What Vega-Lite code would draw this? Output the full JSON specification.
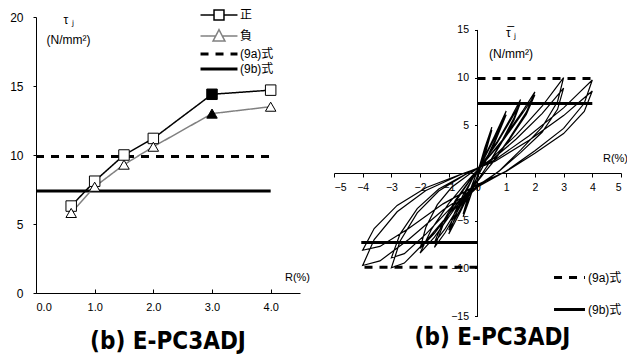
{
  "$schema": "https://vega.github.io/schema/vega-lite/v6.json",
  "padding": {"left": 9, "top": 9, "right": 0, "bottom": 0},
  "spacing": 34,
  "bounds": "flush",
  "background": "white",
  "config": {
    "view": {"stroke": null},
    "axis": {"labelFont": "Liberation Sans", "labelColor": "black", "domainColor": "black", "tickColor": "black", "grid": false, "titleFont": "Liberation Sans", "titleFontWeight": "normal", "titleColor": "black", "labelOverlap": false},
    "legend": {"labelFont": "Liberation Sans, Noto Sans CJK JP", "labelColor": "black", "padding": 0},
    "title": {"font": "DejaVu Sans Condensed", "fontWeight": "bold", "fontSize": 24, "color": "black", "orient": "bottom", "anchor": "middle", "frame": "group"}
  },
  "resolve": {"scale": {"color": "independent", "strokeDash": "independent", "shape": "independent"}, "legend": {"color": "independent", "strokeDash": "independent"}},
  "hconcat": [
    {
      "width": 264,
      "height": 276,
      "title": {"text": "(b) E-PC3ADJ", "offset": 18},
      "layer": [
        {
          "data": {"values": [
            {"series": "(9a)式", "x1": 0, "x2": 4, "y": 9.9},
            {"series": "(9b)式", "x1": 0, "x2": 4, "y": 7.4}
          ]},
          "mark": {"type": "rule", "strokeWidth": 3},
          "encoding": {
            "x": {"field": "x1", "type": "quantitative", "scale": {"domain": [0, 4.5], "nice": false},
              "axis": {"values": [0, 1, 2, 3, 4], "format": ".1f", "tickSize": -4, "labelPadding": 12, "labelFontSize": 11, "labelOverlap": false, "title": "R(%)", "titleX": 261, "titleY": -16, "titleAlign": "center", "titleBaseline": "middle", "titleFontSize": 11}},
            "x2": {"field": "x2"},
            "y": {"field": "y", "type": "quantitative", "scale": {"domain": [0, 20], "nice": false},
              "axis": {"values": [0, 5, 10, 15, 20], "tickSize": 3, "labelPadding": 10, "labelFontSize": 12, "title": ["τ ⱼ", "(N/mm²)"], "titleAngle": 0, "titleX": 32, "titleY": -3, "titleAlign": "center", "titleBaseline": "top", "titleLineHeight": 20, "titleFontSize": 12}},
            "color": {"field": "series", "type": "nominal", "scale": {"domain": ["正", "負", "(9a)式", "(9b)式"], "range": ["black", "#808080", "black", "black"]},
              "legend": {"orient": "none", "legendX": 177, "legendY": -8, "title": null, "symbolSize": 144, "rowPadding": 3, "labelOffset": 15, "labelFontSize": 12,
                "encode": {"symbols": {"update": {
                  "shape": {"signal": "datum.value === '正' ? 'M-3.08,0H-0.83M0.83,0H3.08M-0.83,-0.83H0.83V0.83H-0.83Z' : datum.value === '負' ? 'M-3.08,0H-0.55M0.55,0H3.08M0,-1.05L1,0.85H-1Z' : 'M-3.08,0H3.08'"},
                  "strokeWidth": {"signal": "datum.value === '正' || datum.value === '負' ? 1.5 : 3"},
                  "fill": {"value": "white"},
                  "fillOpacity": {"value": 1}
                }}}}},
            "strokeDash": {"field": "series", "type": "nominal", "scale": {"domain": ["正", "負", "(9a)式", "(9b)式"], "range": [[1, 0], [1, 0], [8, 7], [1, 0]]},
              "legend": {"orient": "none", "legendX": 177, "legendY": -8, "title": null, "symbolSize": 144, "rowPadding": 3, "labelOffset": 15, "labelFontSize": 12,
                "encode": {"symbols": {"update": {
                  "shape": {"signal": "datum.value === '正' ? 'M-3.08,0H-0.83M0.83,0H3.08M-0.83,-0.83H0.83V0.83H-0.83Z' : datum.value === '負' ? 'M-3.08,0H-0.55M0.55,0H3.08M0,-1.05L1,0.85H-1Z' : 'M-3.08,0H3.08'"},
                  "strokeWidth": {"signal": "datum.value === '正' || datum.value === '負' ? 1.5 : 3"},
                  "fill": {"value": "white"},
                  "fillOpacity": {"value": 1}
                }}}}}
          }
        },
        {
          "data": {"values": [
            {"series": "正", "R": 0.6, "tau": 6.3, "solid": false},
            {"series": "正", "R": 1.0, "tau": 8.1, "solid": false},
            {"series": "正", "R": 1.5, "tau": 10.0, "solid": false},
            {"series": "正", "R": 2.0, "tau": 11.2, "solid": false},
            {"series": "正", "R": 3.0, "tau": 14.4, "solid": true},
            {"series": "正", "R": 4.0, "tau": 14.7, "solid": false},
            {"series": "負", "R": 0.6, "tau": 5.8, "solid": false},
            {"series": "負", "R": 1.0, "tau": 7.7, "solid": false},
            {"series": "負", "R": 1.5, "tau": 9.3, "solid": false},
            {"series": "負", "R": 2.0, "tau": 10.6, "solid": false},
            {"series": "負", "R": 3.0, "tau": 13.0, "solid": true},
            {"series": "負", "R": 4.0, "tau": 13.5, "solid": false}
          ]},
          "layer": [
            {
              "mark": {"type": "line", "strokeWidth": 1.5},
              "encoding": {
                "x": {"field": "R", "type": "quantitative"},
                "y": {"field": "tau", "type": "quantitative"},
                "color": {"field": "series", "type": "nominal"},
                "strokeDash": {"field": "series", "type": "nominal"}
              }
            },
            {
              "mark": {"type": "point", "filled": false, "stroke": "black", "strokeWidth": 1, "size": 110, "opacity": 1},
              "encoding": {
                "x": {"field": "R", "type": "quantitative"},
                "y": {"field": "tau", "type": "quantitative"},
                "shape": {"field": "series", "type": "nominal", "scale": {"domain": ["正", "負"], "range": ["square", "triangle-up"]}, "legend": null},
                "fill": {"condition": {"test": "datum.solid", "value": "black"}, "value": "white"},
                "fillOpacity": {"value": 1}
              }
            }
          ]
        }
      ]
    },
    {
      "width": 287,
      "height": 299,
      "title": {"text": "(b) E-PC3ADJ", "dx": 15, "offset": 4},
      "layer": [
        {
          "data": {"values": [
            {"i":0,"R":0,"t":0},{"i":1,"R":0.25,"t":2.6},{"i":2,"R":0.5,"t":4.8},{"i":3,"R":0.3,"t":2.5},{"i":4,"R":0.1,"t":0.58},{"i":5,"R":-0.1,"t":-1.15},{"i":6,"R":-0.3,"t":-2.94},{"i":7,"R":-0.5,"t":-4.6},{"i":8,"R":-0.3,"t":-2.3},{"i":9,"R":-0.1,"t":-0.55},
            {"i":10,"R":0.1,"t":0.99},{"i":11,"R":0.3,"t":2.7},{"i":12,"R":0.5,"t":4.5},{"i":13,"R":0.3,"t":2.34},{"i":14,"R":0.1,"t":0.54},{"i":15,"R":-0.1,"t":-1.08},{"i":16,"R":-0.3,"t":-2.75},{"i":17,"R":-0.5,"t":-4.3},{"i":18,"R":-0.3,"t":-2.15},{"i":19,"R":-0.1,"t":-0.52},
            {"i":20,"R":0.2,"t":1.43},{"i":21,"R":0.6,"t":3.9},{"i":22,"R":1.0,"t":6.5},{"i":23,"R":0.6,"t":3.38},{"i":24,"R":0.2,"t":0.78},{"i":25,"R":-0.2,"t":-1.6},{"i":26,"R":-0.6,"t":-4.1},{"i":27,"R":-1,"t":-6.4},{"i":28,"R":-0.6,"t":-3.2},{"i":29,"R":-0.2,"t":-0.77},
            {"i":30,"R":0.2,"t":1.34},{"i":31,"R":0.6,"t":3.66},{"i":32,"R":1,"t":6.1},{"i":33,"R":0.6,"t":3.17},{"i":34,"R":0.2,"t":0.73},{"i":35,"R":-0.2,"t":-1.5},{"i":36,"R":-0.6,"t":-3.84},{"i":37,"R":-1,"t":-6.0},{"i":38,"R":-0.8,"t":-4.2},{"i":39,"R":-0.5,"t":-2.28},
            {"i":40,"R":-0.2,"t":-0.72},{"i":41,"R":0.15,"t":0.92},{"i":42,"R":0.675,"t":3.23},{"i":43,"R":1.2,"t":6.0},{"i":44,"R":1.5,"t":7.7},{"i":45,"R":1.275,"t":5.78},{"i":46,"R":0.825,"t":3.23},{"i":47,"R":0.375,"t":0.92},{"i":48,"R":-0.075,"t":-1.17},{"i":49,"R":-0.6,"t":-3.51},
            {"i":50,"R":-1.125,"t":-6.24},{"i":51,"R":-1.5,"t":-7.8},{"i":52,"R":-1.2,"t":-5.46},{"i":53,"R":-0.75,"t":-2.96},{"i":54,"R":-0.3,"t":-0.94},{"i":55,"R":0.15,"t":0.89},{"i":56,"R":0.675,"t":3.11},{"i":57,"R":1.2,"t":5.77},{"i":58,"R":1.5,"t":7.4},{"i":59,"R":1.275,"t":5.55},
            {"i":60,"R":0.825,"t":3.11},{"i":61,"R":0.375,"t":0.89},{"i":62,"R":-0.075,"t":-1.1},{"i":63,"R":-0.6,"t":-3.29},{"i":64,"R":-1.125,"t":-5.84},{"i":65,"R":-1.5,"t":-7.3},{"i":66,"R":-1.2,"t":-5.11},{"i":67,"R":-0.75,"t":-2.77},{"i":68,"R":-0.3,"t":-0.88},{"i":69,"R":0.2,"t":1.02},
            {"i":70,"R":0.9,"t":3.57},{"i":71,"R":1.6,"t":6.63},{"i":72,"R":2,"t":8.5},{"i":73,"R":1.7,"t":6.38},{"i":74,"R":1.1,"t":3.57},{"i":75,"R":0.5,"t":1.02},{"i":76,"R":-0.1,"t":-1.26},{"i":77,"R":-0.8,"t":-3.78},{"i":78,"R":-1.5,"t":-6.72},{"i":79,"R":-2,"t":-8.4},
            {"i":80,"R":-1.6,"t":-5.88},{"i":81,"R":-1.0,"t":-3.19},{"i":82,"R":-0.4,"t":-1.01},{"i":83,"R":0.2,"t":0.98},{"i":84,"R":0.9,"t":3.44},{"i":85,"R":1.6,"t":6.4},{"i":86,"R":2,"t":8.2},{"i":87,"R":1.7,"t":6.15},{"i":88,"R":1.1,"t":3.44},{"i":89,"R":0.5,"t":0.98},
            {"i":90,"R":-0.1,"t":-1.19},{"i":91,"R":-0.8,"t":-3.56},{"i":92,"R":-1.5,"t":-6.32},{"i":93,"R":-2,"t":-7.9},{"i":94,"R":-1.8,"t":-5.69},{"i":95,"R":-1.4,"t":-3.32},{"i":96,"R":-0.9,"t":-1.5},{"i":97,"R":-0.3,"t":-0.16},{"i":98,"R":0.45,"t":1.4},{"i":99,"R":1.35,"t":4.0},
            {"i":100,"R":2.25,"t":7.0},{"i":101,"R":2.7,"t":8.8},{"i":102,"R":3,"t":10.0},{"i":103,"R":2.79,"t":7.5},{"i":104,"R":2.25,"t":4.8},{"i":105,"R":1.5,"t":2.4},{"i":106,"R":0.75,"t":0.2},{"i":107,"R":0,"t":-1.49},{"i":108,"R":-0.9,"t":-3.98},{"i":109,"R":-1.8,"t":-7.16},
            {"i":110,"R":-2.55,"t":-9.45},{"i":111,"R":-3,"t":-9.95},{"i":112,"R":-2.7,"t":-7.16},{"i":113,"R":-2.1,"t":-4.18},{"i":114,"R":-1.35,"t":-1.89},{"i":115,"R":-0.45,"t":-0.2},{"i":116,"R":0.45,"t":1.25},{"i":117,"R":1.35,"t":3.56},{"i":118,"R":2.25,"t":6.23},{"i":119,"R":2.7,"t":7.83},
            {"i":120,"R":3,"t":8.9},{"i":121,"R":2.79,"t":6.68},{"i":122,"R":2.25,"t":4.27},{"i":123,"R":1.5,"t":2.14},{"i":124,"R":0.75,"t":0.18},{"i":125,"R":0,"t":-1.34},{"i":126,"R":-0.9,"t":-3.56},{"i":127,"R":-1.8,"t":-6.41},{"i":128,"R":-2.55,"t":-8.46},{"i":129,"R":-3,"t":-8.9},
            {"i":130,"R":-2.7,"t":-6.41},{"i":131,"R":-2.1,"t":-3.74},{"i":132,"R":-1.35,"t":-1.69},{"i":133,"R":-0.45,"t":-0.18},{"i":134,"R":0.6,"t":1.37},{"i":135,"R":1.8,"t":3.9},{"i":136,"R":3.0,"t":6.83},{"i":137,"R":3.6,"t":8.58},{"i":138,"R":4,"t":9.75},{"i":139,"R":3.72,"t":7.31},
            {"i":140,"R":3.0,"t":4.68},{"i":141,"R":2.0,"t":2.34},{"i":142,"R":1.0,"t":0.2},{"i":143,"R":0,"t":-1.46},{"i":144,"R":-1.2,"t":-3.88},{"i":145,"R":-2.4,"t":-6.98},{"i":146,"R":-3.4,"t":-9.22},{"i":147,"R":-4,"t":-9.7},{"i":148,"R":-3.6,"t":-6.98},{"i":149,"R":-2.8,"t":-4.07},
            {"i":150,"R":-1.8,"t":-1.84},{"i":151,"R":-0.6,"t":-0.19},{"i":152,"R":0.6,"t":1.2},{"i":153,"R":1.8,"t":3.44},{"i":154,"R":3.0,"t":6.02},{"i":155,"R":3.6,"t":7.57},{"i":156,"R":4,"t":8.6},{"i":157,"R":3.72,"t":6.45},{"i":158,"R":3.0,"t":4.13},{"i":159,"R":2.0,"t":2.06},
            {"i":160,"R":1.0,"t":0.17},{"i":161,"R":0,"t":-1.22},{"i":162,"R":-1.2,"t":-3.24},{"i":163,"R":-2.4,"t":-5.83},{"i":164,"R":-3.4,"t":-7.7},{"i":165,"R":-4,"t":-8.1},{"i":166,"R":-3.6,"t":-5.83},{"i":167,"R":-2.8,"t":-3.4},{"i":168,"R":-1.8,"t":-1.54},{"i":169,"R":-0.6,"t":-0.16},
            {"i":170,"R":0,"t":0.5}
          ]},
          "mark": {"type": "line", "stroke": "black", "strokeWidth": 1.2},
          "encoding": {
            "x": {"field": "R", "type": "quantitative", "scale": {"domain": [-5, 5], "nice": false},
              "axis": {"values": [-5, -4, -3, -2, -1, 0, 1, 2, 3, 4, 5], "format": "d", "offset": -143, "tickSize": 4, "labelPadding": 5, "labelFontSize": 10.5, "labelOverlap": false, "title": "R(%)", "titleX": 281, "titleY": -15, "titleAlign": "center", "titleBaseline": "middle", "titleFontSize": 11}},
            "y": {"field": "t", "type": "quantitative", "scale": {"domain": [-15, 16.36], "nice": false, "zero": false},
              "axis": {"values": [-15, -10, -5, 5, 10, 15], "format": "d", "offset": -143.5, "domain": false, "tickSize": 3, "labelPadding": 6, "labelFontSize": 10.5, "labelOverlap": false, "title": ["τ̅ ⱼ", "(N/mm²)"], "titleAngle": 0, "titleX": 33, "titleY": 10, "titleAlign": "center", "titleBaseline": "top", "titleLineHeight": 21, "titleFontSize": 12}},
            "order": {"field": "i", "type": "quantitative"}
          }
        },
        {
          "data": {"values": [{"a": 0, "lo": -15, "hi": 15}]},
          "mark": {"type": "rule", "stroke": "black", "strokeWidth": 1},
          "encoding": {
            "x": {"field": "a", "type": "quantitative", "axis": {"values": [-5, -4, -3, -2, -1, 0, 1, 2, 3, 4, 5], "format": "d", "offset": -143, "tickSize": 4, "labelPadding": 5, "labelFontSize": 10.5, "labelOverlap": false, "title": "R(%)", "titleX": 281, "titleY": -15, "titleAlign": "center", "titleBaseline": "middle", "titleFontSize": 11}},
            "y": {"field": "lo", "type": "quantitative", "axis": {"values": [-15, -10, -5, 5, 10, 15], "format": "d", "offset": -143.5, "domain": false, "tickSize": 3, "labelPadding": 6, "labelFontSize": 10.5, "labelOverlap": false, "title": ["τ̅ ⱼ", "(N/mm²)"], "titleAngle": 0, "titleX": 33, "titleY": 10, "titleAlign": "center", "titleBaseline": "top", "titleLineHeight": 21, "titleFontSize": 12}},
            "y2": {"field": "hi"}
          }
        },
        {
          "data": {"values": [
            {"series2": "(9a)式", "x1": 0, "x2": 4, "y": 9.9},
            {"series2": "(9a)式", "x1": 0, "x2": -4, "y": -9.9},
            {"series2": "(9b)式", "x1": 0, "x2": 4, "y": 7.3},
            {"series2": "(9b)式", "x1": 0, "x2": -4.05, "y": -7.3}
          ]},
          "mark": {"type": "rule", "strokeWidth": 3},
          "encoding": {
            "x": {"field": "x1", "type": "quantitative", "axis": {"values": [-5, -4, -3, -2, -1, 0, 1, 2, 3, 4, 5], "format": "d", "offset": -143, "tickSize": 4, "labelPadding": 5, "labelFontSize": 10.5, "labelOverlap": false, "title": "R(%)", "titleX": 281, "titleY": -15, "titleAlign": "center", "titleBaseline": "middle", "titleFontSize": 11}},
            "x2": {"field": "x2"},
            "y": {"field": "y", "type": "quantitative", "axis": {"values": [-15, -10, -5, 5, 10, 15], "format": "d", "offset": -143.5, "domain": false, "tickSize": 3, "labelPadding": 6, "labelFontSize": 10.5, "labelOverlap": false, "title": ["τ̅ ⱼ", "(N/mm²)"], "titleAngle": 0, "titleX": 33, "titleY": 10, "titleAlign": "center", "titleBaseline": "top", "titleLineHeight": 21, "titleFontSize": 12}},
            "color": {"field": "series2", "type": "nominal", "scale": {"domain": ["(9a)式", "(9b)式"], "range": ["black", "black"]},
              "legend": {"orient": "none", "legendX": 228, "legendY": 253, "title": null, "symbolSize": 144, "rowPadding": 18, "labelOffset": 11, "labelFontSize": 12,
                "encode": {"symbols": {"update": {"shape": {"value": "M-2.58,0H2.58"}, "strokeWidth": {"value": 3}}}}}},
            "strokeDash": {"field": "series2", "type": "nominal", "scale": {"domain": ["(9a)式", "(9b)式"], "range": [[8, 7], [1, 0]]},
              "legend": {"orient": "none", "legendX": 228, "legendY": 253, "title": null, "symbolSize": 144, "rowPadding": 18, "labelOffset": 11, "labelFontSize": 12,
                "encode": {"symbols": {"update": {"shape": {"value": "M-2.58,0H2.58"}, "strokeWidth": {"value": 3}}}}}}
          }
        }
      ]
    }
  ]
}
